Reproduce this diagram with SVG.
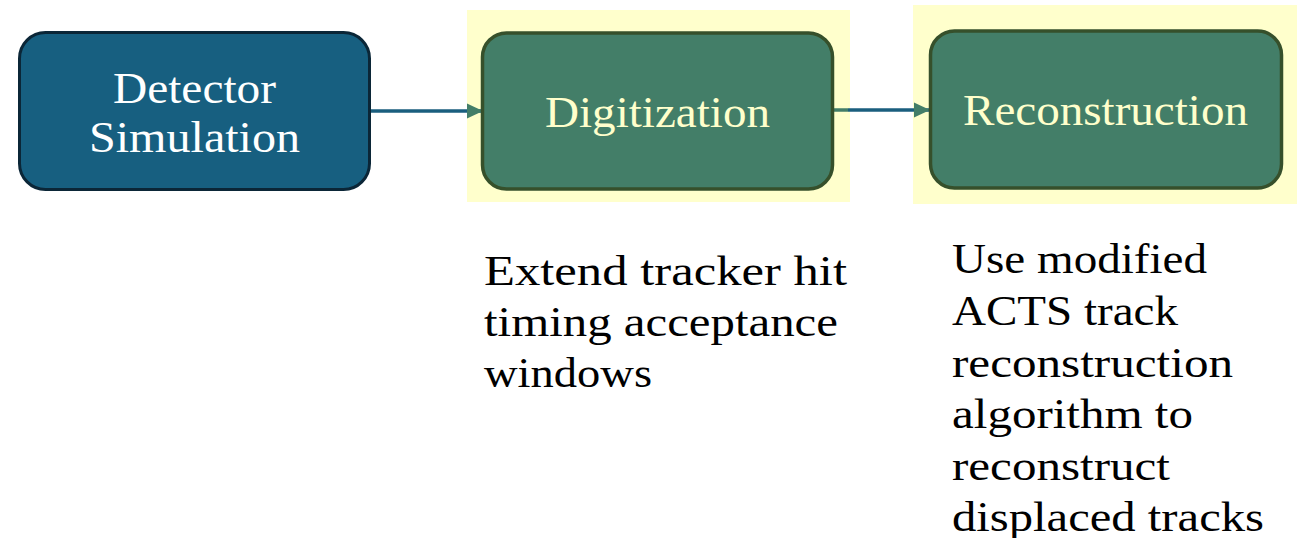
<svg xmlns="http://www.w3.org/2000/svg" width="1299" height="538" viewBox="0 0 1299 538">
<style>
.hl{fill:#ffffcc}
.blue{fill:#175f80;stroke:#0b2637;stroke-width:3}
.green{fill:#437e68;stroke:#36502b;stroke-width:3.5}
.lbl{font-family:"Liberation Serif","Times New Roman",serif;font-size:44px}
.cap{font-family:"Liberation Serif","Times New Roman",serif;font-size:42px;fill:#000}
.conn{stroke:#1a5e7e;stroke-width:3.5;fill:none}
</style>
<defs>
<marker id="ah" markerUnits="userSpaceOnUse" markerWidth="16" markerHeight="16" refX="16" refY="8" orient="auto">
<path d="M0,0.5 L16,8 L0,15.5 Z" fill="#437e68"/>
</marker>
</defs>
<rect class="hl" x="467" y="10" width="383" height="192"/>
<rect class="hl" x="913" y="5" width="384" height="199"/>
<g id="connectors">
<path class="conn" d="M370,111 H483" marker-end="url(#ah)"/>
<path class="conn" d="M848,110 H930" marker-end="url(#ah)"/>
<path d="M833,110 H848" stroke="#437e68" stroke-width="3.5"/>
</g>
<g id="detector-simulation">
<rect class="blue" x="19.5" y="32.5" width="350" height="157" rx="26"/>
<text class="lbl" fill="#ffffff" x="113" y="103" textLength="163" lengthAdjust="spacingAndGlyphs">Detector</text>
<text class="lbl" fill="#ffffff" x="89" y="152" textLength="211" lengthAdjust="spacingAndGlyphs">Simulation</text>
</g>
<g id="digitization">
<rect class="green" x="482.5" y="33" width="350" height="156" rx="24"/>
<text class="lbl" fill="#ffffcc" x="545" y="127" textLength="225" lengthAdjust="spacingAndGlyphs">Digitization</text>
</g>
<g id="reconstruction">
<rect class="green" x="930.5" y="31" width="351" height="157" rx="24"/>
<text class="lbl" fill="#ffffcc" x="963" y="125" textLength="285" lengthAdjust="spacingAndGlyphs">Reconstruction</text>
</g>
<g id="digitization-note">
<text class="cap" x="484" y="285" textLength="363" lengthAdjust="spacingAndGlyphs">Extend tracker hit</text>
<text class="cap" x="484" y="336" textLength="354" lengthAdjust="spacingAndGlyphs">timing acceptance</text>
<text class="cap" x="484" y="387" textLength="168" lengthAdjust="spacingAndGlyphs">windows</text>
</g>
<g id="reconstruction-note">
<text class="cap" x="952" y="273" textLength="255" lengthAdjust="spacingAndGlyphs">Use modified</text>
<text class="cap" x="952" y="325" textLength="226" lengthAdjust="spacingAndGlyphs">ACTS track</text>
<text class="cap" x="952" y="377" textLength="281" lengthAdjust="spacingAndGlyphs">reconstruction</text>
<text class="cap" x="952" y="428" textLength="241" lengthAdjust="spacingAndGlyphs">algorithm to</text>
<text class="cap" x="952" y="480" textLength="218" lengthAdjust="spacingAndGlyphs">reconstruct</text>
<text class="cap" x="952" y="531" textLength="312" lengthAdjust="spacingAndGlyphs">displaced tracks</text>
</g>
</svg>
